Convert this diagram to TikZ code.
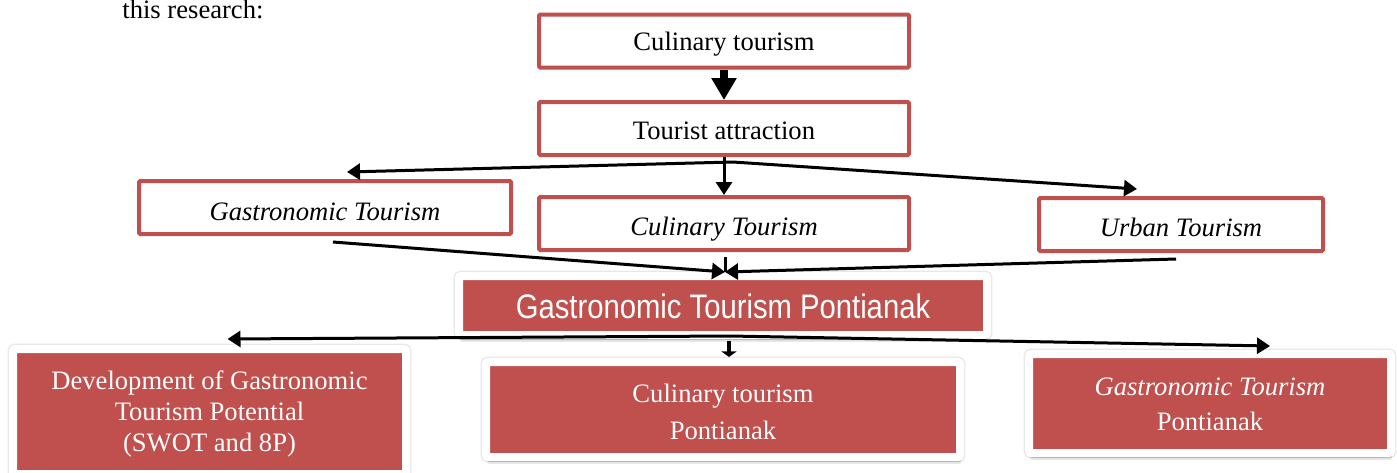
\documentclass[tikz,border=0pt]{standalone}
\usepackage{fontspec}
\setmainfont{Liberation Serif}
\newfontfamily\arialf[FakeStretch=0.86]{Liberation Sans}
\usetikzlibrary{arrows.meta,shadows,calc}
\definecolor{accred}{HTML}{C0504D}
\newcommand{\lift}[1]{\rule{0pt}{#1pt}}
\begin{document}
\begin{tikzpicture}[x=0.5pt,y=-0.5pt,
  wbox/.style={draw=accred, line width=2pt, fill=white, inner sep=0pt,
    rounded corners=0.6pt, font=\fontsize{13.3}{15}\selectfont},
  fbox/.style={draw=white, line width=4pt, fill=accred, text=white, inner sep=0pt,
    rounded corners=1pt, align=center,
    preaction={draw=black!9, line width=5.4pt},
    drop shadow={shadow xshift=0.4pt,shadow yshift=-2.4pt,opacity=0.16,fill=black},
    drop shadow={shadow xshift=0.6pt,shadow yshift=-3.4pt,opacity=0.09,fill=black}},
  arr/.style={line width=1.5pt, -{Triangle[length=6.5pt,width=8pt]}},
  plainline/.style={line width=1.5pt},
  bigarr/.style={line width=3.6pt, -{Triangle[length=11pt,width=12pt]}},
  smallarr/.style={line width=1.8pt, -{Triangle[length=2.8pt,width=7.5pt]}}]
\useasboundingbox (0,0) rectangle (1397,472);
\clip (0,0) rectangle (1397,472);

% leading text
\node[anchor=base west, inner sep=0pt, font=\fontsize{13.3}{15}\selectfont] (lead) at (122,18.5) {this research:};

% top white boxes
\node[wbox, minimum width=185pt, minimum height=26.5pt] (c1) at (724,41) {\lift{11.9}Culinary tourism};
\node[wbox, minimum width=185pt, minimum height=26.5pt] (ta) at (724,128.5) {\lift{10.9}Tourist attraction};
\node[wbox, minimum width=186pt, minimum height=26.5pt] (gt) at (325,207.5) {\lift{12.9}\itshape Gastronomic Tourism};
\node[wbox, minimum width=185pt, minimum height=26.5pt] (ct) at (724,223.5) {\lift{14.9}\itshape Culinary Tourism};
\node[wbox, minimum width=142pt, minimum height=26.5pt] (ut) at (1181,224.5) {\lift{11.9}\itshape Urban Tourism};

% filled boxes
\node[fbox, minimum width=264pt, minimum height=29.5pt, font=\arialf\fontsize{17}{19}\selectfont] (gp) at (723,305.5) {\lift{13.4}Gastronomic Tourism Pontianak};
\node[fbox, minimum width=196.5pt, minimum height=62.5pt, font=\fontsize{13.3}{15.3}\selectfont] (dev) at (209.5,411.5) {\lift{11.9}Development of Gastronomic\\Tourism Potential\\(SWOT and 8P)};
\node[fbox, minimum width=237pt, minimum height=47.5pt, font=\fontsize{13.3}{18.5}\selectfont] (cp) at (723,409.5) {\lift{11.9}Culinary tourism\\Pontianak};
\node[fbox, minimum width=181pt, minimum height=49.5pt, font=\fontsize{13.3}{17.5}\selectfont] (gtp) at (1210,403.5) {\lift{9.9}\itshape Gastronomic Tourism\\Pontianak};

% coordinates
\coordinate (j1) at ($(ta.south)+(9,5)$);
\coordinate (e1) at ($(gt.north)+(22,-7)$);
\coordinate (e2) at ($(ut.north)+(-44,-7)$);
\coordinate (g1) at ($(gt.south)+(8,6)$);
\coordinate (u1) at ($(ut.south)+(-5,6)$);
\coordinate (k1) at ($(ct.south)+(1,5)$);
\coordinate (k2) at ($(ct.south)+(1,20)$);
\coordinate (m) at ($(gp.north)+(2,0)$);
\coordinate (j2) at ($(gp.south)+(7,-3)$);
\coordinate (s1) at ($(gp.south)+(6,2)$);
\coordinate (s2) at ($(s1 |- cp.north)+(0,-1)$);
\coordinate (d1) at ($(dev.north)+(18,-6)$);
\coordinate (r1) at ($(gtp.north)+(60,-4)$);

% connectors
\draw[bigarr] (c1.south) -- (ta.north);
\draw[arr] (ta.south) -- (ct.north);
\draw[arr] (j1) -- (e1);
\draw[arr] (j1) -- (e2);
\draw[arr] (g1) -- (m);
\draw[arr] (u1) -- (m);
\draw[plainline] (k1) -- (k2);
\draw[arr] (j2) -- (d1);
\draw[arr] (j2) -- (r1);
\draw[smallarr] (s1) -- (s2);
\end{tikzpicture}
\end{document}
